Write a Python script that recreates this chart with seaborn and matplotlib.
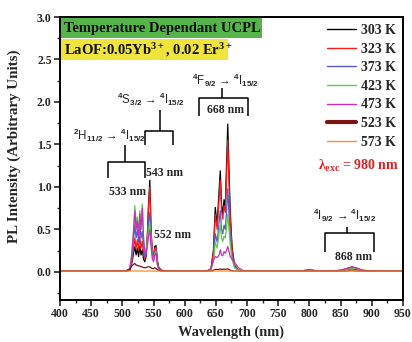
import matplotlib
matplotlib.use("Agg")
import matplotlib.pyplot as plt
from matplotlib.lines import Line2D
from matplotlib.patches import Rectangle
from matplotlib.ticker import MultipleLocator, FormatStrFormatter
import pandas as pd
import seaborn as sns

# Emission spectra of LaOF:0.05Yb3+, 0.02Er3+ at several temperatures
wavelength = [400, 505, 512, 515, 518, 520, 522, 524, 526, 528,
              530, 532, 534, 536, 538, 540, 542, 544, 546, 548,
              550, 552, 554, 556, 558, 562, 570, 600, 635, 642,
              646, 649, 652, 655, 657, 659, 661, 663, 665, 667,
              669, 671, 673, 676, 680, 686, 695, 760, 785, 795,
              800, 805, 815, 835, 850, 860, 868, 876, 885, 900, 950]

temperatures = ["303 K", "323 K", "373 K", "423 K", "473 K", "523 K", "573 K"]
line_colors = ["#000000", "#ff1a1a", "#5a5ac8", "#5ccc4a", "#c82dbe", "#7a1414", "#ff8c2a"]

pl_303 = [.01, .01, .02, .10, .22, .30, .20, .28, .18, .30,
          .20, .26, .15, .12, .18, .40, .80, 1.08, .50, .22,
          .18, .30, .31, .14, .06, .02, .01, .01, .01, .03,
          .25, .76, .55, .95, 1.19, .80, .68, .85, .75, 1.25,
          1.74, 1.20, .70, .28, .08, .02, .01, .01, .01, .015,
          .02, .015, .01, .01, .015, .03, .04, .03, .015, .01, .01]
pl_323 = [.01, .01, .02, .12, .28, .40, .28, .38, .25, .42,
          .28, .36, .20, .15, .20, .42, .78, 1.00, .50, .22,
          .17, .28, .29, .13, .06, .02, .01, .01, .01, .03,
          .22, .68, .50, .85, 1.08, .72, .62, .78, .70, 1.10,
          1.55, 1.05, .62, .25, .07, .02, .01, .01, .01, .02,
          .025, .02, .01, .01, .02, .04, .06, .045, .02, .01, .01]
pl_373 = [.01, .01, .03, .15, .38, .55, .40, .50, .35, .55,
          .40, .48, .28, .18, .22, .38, .58, .70, .40, .20,
          .15, .24, .26, .12, .05, .02, .01, .01, .01, .03,
          .15, .45, .35, .58, .72, .50, .45, .55, .50, .70,
          .98, .68, .42, .18, .05, .02, .01, .01, .01, .02,
          .025, .02, .01, .01, .02, .04, .055, .04, .02, .01, .01]
pl_423 = [.01, .01, .04, .20, .50, .78, .55, .65, .45, .72,
          .55, .80, .40, .25, .25, .35, .50, .58, .35, .18,
          .14, .22, .24, .10, .04, .02, .01, .01, .01, .03,
          .12, .35, .28, .45, .55, .40, .36, .42, .40, .52,
          .68, .50, .32, .14, .05, .02, .01, .01, .01, .02,
          .02, .015, .01, .01, .015, .03, .045, .035, .015, .01, .01]
pl_473 = [.01, .01, .04, .20, .48, .72, .50, .60, .42, .68,
          .50, .75, .38, .24, .22, .30, .42, .50, .30, .16,
          .12, .20, .22, .09, .04, .02, .01, .01, .01, .04,
          .14, .18, .17, .20, .26, .20, .19, .24, .22, .25,
          .30, .24, .18, .15, .11, .05, .01, .01, .01, .02,
          .03, .02, .01, .01, .02, .04, .06, .045, .02, .01, .01]
pl_523 = [.01, .01, .03, .07, .09, .10, .08, .08, .07, .07,
          .06, .06, .05, .05, .05, .06, .06, .06, .05, .04,
          .04, .05, .04, .03, .02, .01, .01, .01, .01, .01,
          .02, .03, .03, .03, .035, .03, .03, .035, .03, .035,
          .035, .03, .02, .015, .01, .01, .01, .01, .01, .01,
          .01, .01, .01, .01, .01, .01, .02, .01, .01, .01, .01]
pl_573 = [.01, .01, .01, .01, .012, .012, .01, .012, .01, .012,
          .01, .012, .01, .01, .01, .01, .012, .012, .01, .01,
          .01, .01, .01, .01, .01, .01, .01, .01, .01, .01,
          .01, .012, .01, .012, .012, .01, .01, .012, .01, .012,
          .012, .01, .01, .01, .01, .01, .01, .01, .01, .01,
          .012, .01, .01, .01, .01, .01, .012, .01, .01, .01, .01]

series = [pl_303, pl_323, pl_373, pl_423, pl_473, pl_523, pl_573]

frames = [pd.DataFrame({"Wavelength": wavelength, "Intensity": vals, "Temperature": t})
          for t, vals in zip(temperatures, series)]
df = pd.concat(frames, ignore_index=True)

sns.set_theme(style="ticks")
plt.rcParams.update({
    "font.family": ["Liberation Serif", "DejaVu Serif"],
    "font.weight": "bold",
    "axes.labelweight": "bold",
    "mathtext.fontset": "custom",
    "mathtext.rm": "Liberation Sans",
    "mathtext.it": "Liberation Sans:italic",
    "mathtext.bf": "Liberation Serif:bold",
})

fig = plt.figure(figsize=(4.12, 3.42), dpi=100)
ax = fig.add_axes([60 / 412, 42 / 342, 343 / 412, 283 / 342])

sns.lineplot(data=df, x="Wavelength", y="Intensity", hue="Temperature",
             palette=dict(zip(temperatures, line_colors)), estimator=None,
             sort=False, linewidth=0.9, legend=False, ax=ax)

ax.set_xlim(400, 950)
ax.set_ylim(-0.33, 3.0)
ax.xaxis.set_major_locator(MultipleLocator(50))
ax.xaxis.set_minor_locator(MultipleLocator(25))
ax.yaxis.set_major_locator(MultipleLocator(0.5))
ax.yaxis.set_minor_locator(MultipleLocator(0.25))
ax.yaxis.set_major_formatter(FormatStrFormatter("%.1f"))
ax.tick_params(which="major", direction="out", length=4, width=1.2, labelsize=8.5, pad=2)
ax.tick_params(which="minor", direction="out", length=2, width=1.0)
for sp in ax.spines.values():
    sp.set_linewidth(1.4)
    sp.set_color("black")

ax.set_xlabel("Wavelength (nm)", fontsize=10.4, labelpad=4)
ax.set_ylabel("PL Intensity (Arbitrary Units)", fontsize=10.8, labelpad=3)
ax.yaxis.set_label_coords(-0.113, 0.545)

# Legend
handles = [Line2D([], [], color=c, lw=1.0) for c in line_colors]
handles[5].set_linewidth(3.0)
leg = ax.legend(handles, temperatures, loc="upper right", bbox_to_anchor=(1.0, 1.0),
                frameon=False, fontsize=10, handlelength=2.1, handletextpad=0.35,
                labelspacing=0.40, borderaxespad=0.1, borderpad=0.42)

# Title boxes
ax.add_patch(Rectangle((0.004, 0.926), 0.585, 0.07, transform=ax.transAxes,
                       facecolor="#55b54a", edgecolor="none", zorder=3))
ax.add_patch(Rectangle((0.004, 0.848), 0.486, 0.074, transform=ax.transAxes,
                       facecolor="#efe43c", edgecolor="none", zorder=3))
ax.text(0.012, 0.961, "Temperature Dependant UCPL", transform=ax.transAxes,
        fontsize=10.5, fontweight="bold", va="center", ha="left", color="#101010", zorder=4)
ax.text(0.012, 0.884, r"LaOF:0.05Yb$^{\mathbf{3+}}$, 0.02 Er$^{\mathbf{3+}}$",
        transform=ax.transAxes, fontsize=10.5, fontweight="bold", va="center",
        ha="left", color="#101010", zorder=4)

ax.text(879, 1.25, r"λ$_{\mathbf{exc}}$ = 980 nm", color="#e02020", fontsize=10,
        fontweight="bold", ha="center", va="center")

# Transition labels and brackets
trans_kw = dict(fontsize=8.3, ha="center", va="center", fontweight="normal",
                family=["Liberation Sans", "DejaVu Sans"])
nm_kw = dict(fontsize=8.5, ha="center", va="center", fontweight="bold")
br_kw = dict(color="black", lw=1.1, solid_capstyle="butt")


def bracket(x_stem, y_top, y_bar, x_left, x_right, y_leg):
    ax.plot([x_stem, x_stem], [y_top, y_bar], **br_kw)
    ax.plot([x_left, x_left, x_right, x_right], [y_leg, y_bar, y_bar, y_leg], **br_kw)


ax.text(480, 1.61, r"$^{2}$H$_{11/2}$ → $^{4}$I$_{15/2}$", **trans_kw)
bracket(504, 1.49, 1.29, 477, 536, 1.11)
ax.text(546, 2.03, r"$^{4}$S$_{3/2}$ → $^{4}$I$_{15/2}$", **trans_kw)
bracket(560, 1.90, 1.66, 536, 581, 1.49)
ax.text(665, 2.25, r"$^{4}$F$_{9/2}$ → $^{4}$I$_{15/2}$", **trans_kw)
bracket(660, 2.16, 2.05, 623, 701, 1.84)
ax.text(857, 0.67, r"$^{4}$I$_{9/2}$ → $^{4}$I$_{15/2}$", **trans_kw)
bracket(860, 0.53, 0.46, 825, 903, 0.23)

ax.text(567, 1.17, "543 nm", **nm_kw)
ax.text(509, 0.94, "533 nm", **nm_kw)
ax.text(580, 0.43, "552 nm", **nm_kw)
ax.text(666, 1.90, "668 nm", **nm_kw)
ax.text(871, 0.18, "868 nm", **nm_kw)

fig.savefig("out.png", dpi=100)
